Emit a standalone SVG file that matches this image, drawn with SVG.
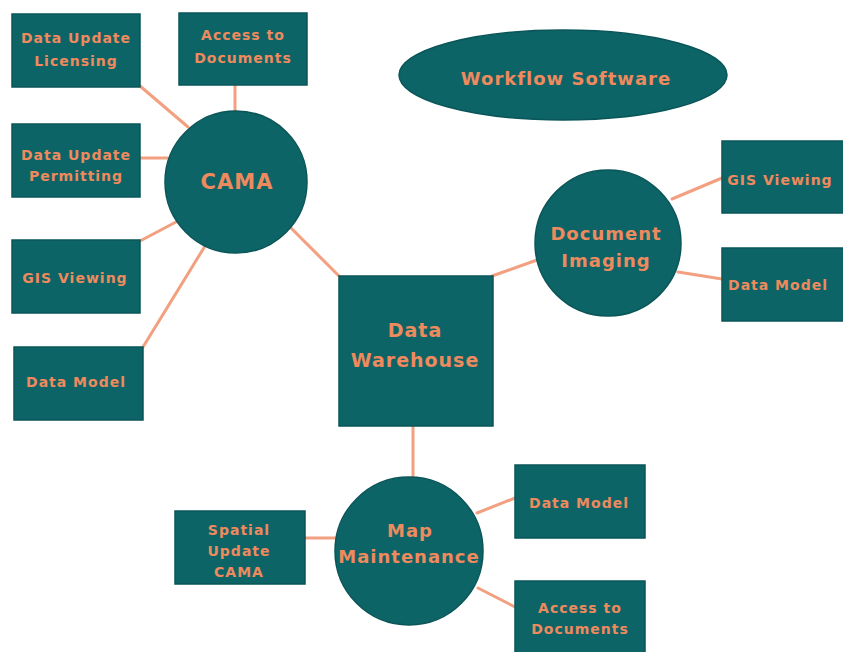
<svg xmlns="http://www.w3.org/2000/svg" width="843" height="652" viewBox="0 0 843 652">
  <style>
    .node { fill: #0D6466; stroke: #0A5558; stroke-width: 1.5; }
    .link { stroke: #F2A080; stroke-width: 3; fill: none; stroke-linecap: round; }
    .lbl { font-family: "DejaVu Sans", "Liberation Sans", sans-serif; font-weight: bold; fill: #EE8A5E; text-anchor: middle; letter-spacing: 1px; }
    .sm { font-size: 14px; }
    .lg { font-size: 18px; }
  </style>
  <rect width="843" height="652" fill="#ffffff"/>

  <!-- connectors -->
  <g id="connectors">
    <line class="link" x1="140" y1="86" x2="188" y2="127"/>
    <line class="link" x1="235" y1="85" x2="235" y2="112"/>
    <line class="link" x1="140" y1="158" x2="168" y2="158"/>
    <line class="link" x1="140" y1="241" x2="176" y2="222"/>
    <line class="link" x1="143" y1="347" x2="205" y2="246"/>
    <line class="link" x1="289" y1="226" x2="340" y2="277"/>
    <line class="link" x1="492" y1="276" x2="537" y2="260"/>
    <line class="link" x1="672" y1="199" x2="722" y2="178"/>
    <line class="link" x1="678" y1="272" x2="722" y2="279"/>
    <line class="link" x1="413" y1="426" x2="413" y2="478"/>
    <line class="link" x1="305" y1="538" x2="336" y2="538"/>
    <line class="link" x1="477" y1="513" x2="515" y2="498"/>
    <line class="link" x1="478" y1="588" x2="515" y2="607"/>
  </g>

  <!-- CAMA group -->
  <g id="cama">
    <circle class="node" cx="236" cy="182" r="71"/>
    <text class="lbl" x="237" y="189" font-size="21">CAMA</text>
  </g>
  <g id="cama-licensing">
    <rect class="node" x="12" y="14" width="128" height="73"/>
    <text class="lbl sm" x="76" y="43">Data Update</text>
    <text class="lbl sm" x="76" y="66">Licensing</text>
  </g>
  <g id="cama-access">
    <rect class="node" x="179" y="13" width="128" height="72"/>
    <text class="lbl sm" x="243" y="40">Access to</text>
    <text class="lbl sm" x="243" y="63">Documents</text>
  </g>
  <g id="cama-permitting">
    <rect class="node" x="12" y="124" width="128" height="73"/>
    <text class="lbl sm" x="76" y="160">Data Update</text>
    <text class="lbl sm" x="76" y="181">Permitting</text>
  </g>
  <g id="cama-gis">
    <rect class="node" x="12" y="240" width="128" height="73"/>
    <text class="lbl sm" x="75" y="283">GIS Viewing</text>
  </g>
  <g id="cama-datamodel">
    <rect class="node" x="14" y="347" width="129" height="73"/>
    <text class="lbl sm" x="76" y="387">Data Model</text>
  </g>

  <!-- Workflow -->
  <g id="workflow">
    <ellipse class="node" cx="563" cy="75" rx="164" ry="45"/>
    <text class="lbl lg" x="566" y="85">Workflow Software</text>
  </g>

  <!-- Data Warehouse -->
  <g id="warehouse">
    <rect class="node" x="339" y="276" width="154" height="150"/>
    <text class="lbl" x="415" y="337" font-size="19">Data</text>
    <text class="lbl" x="415" y="367" font-size="19">Warehouse</text>
  </g>

  <!-- Document Imaging group -->
  <g id="imaging">
    <circle class="node" cx="608" cy="243" r="73"/>
    <text class="lbl lg" x="606" y="240">Document</text>
    <text class="lbl lg" x="606" y="267">Imaging</text>
  </g>
  <g id="imaging-gis">
    <rect class="node" x="722" y="141" width="125" height="72"/>
    <text class="lbl sm" x="780" y="185">GIS Viewing</text>
  </g>
  <g id="imaging-datamodel">
    <rect class="node" x="722" y="248" width="125" height="73"/>
    <text class="lbl sm" x="778" y="290">Data Model</text>
  </g>

  <!-- Map Maintenance group -->
  <g id="mapmaint">
    <circle class="node" cx="409" cy="551" r="74"/>
    <text class="lbl lg" x="410" y="537">Map</text>
    <text class="lbl lg" x="409" y="563">Maintenance</text>
  </g>
  <g id="map-spatial">
    <rect class="node" x="175" y="511" width="130" height="73"/>
    <text class="lbl sm" x="239" y="535">Spatial</text>
    <text class="lbl sm" x="239" y="556">Update</text>
    <text class="lbl sm" x="239" y="577">CAMA</text>
  </g>
  <g id="map-datamodel">
    <rect class="node" x="515" y="465" width="130" height="73"/>
    <text class="lbl sm" x="579" y="508">Data Model</text>
  </g>
  <g id="map-access">
    <rect class="node" x="515" y="581" width="130" height="75"/>
    <text class="lbl sm" x="580" y="613">Access to</text>
    <text class="lbl sm" x="580" y="634">Documents</text>
  </g>
</svg>
